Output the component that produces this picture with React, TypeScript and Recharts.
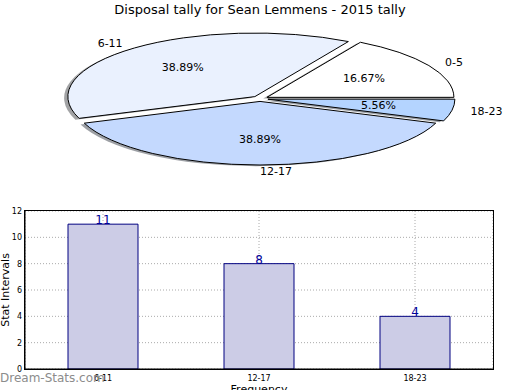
import React from 'react'
import { PieChart, Pie, BarChart, Bar, XAxis, YAxis, CartesianGrid, LabelList, Label } from 'recharts'

// pie: disposal ranges
const pieLabels = ['0-5', '6-11', '12-17', '18-23']
const pieValues = [3, 7, 7, 1]
const pieColors = ['#ffffff', '#eaf1fe', '#c4d9fe', '#b4d4ff']

// bar chart
const barCategories = ['6-11', '12-17', '18-23']
const barValues = [11, 8, 4]
const yTicks = [0, 2, 4, 6, 8, 10, 12]

const CX = 260
const CY = 98.7
const R = 187
const K = 0.34 // vertical squash of the pie
const EXPLODE = 8
const SHADOW = 0.02 * R

const total = pieValues.reduce((a, b) => a + b, 0)
let acc = 0
const slices = pieValues.map((v, i) => {
  const start = (acc / total) * 360
  acc += v
  const end = (acc / total) * 360
  const mid = ((start + end) / 2) * Math.PI / 180
  return {
    name: pieLabels[i],
    value: v,
    color: pieColors[i],
    start,
    end,
    cx: CX + EXPLODE * Math.cos(mid),
    cy: CY - EXPLODE * Math.sin(mid),
  }
})

const barData = barCategories.map((c, i) => ({ cat: c, value: barValues[i] }))

const darken = (hex: string) => {
  const n = parseInt(hex.slice(1), 16)
  const r = Math.round(((n >> 16) & 255) * 0.3)
  const g = Math.round(((n >> 8) & 255) * 0.3)
  const b = Math.round((n & 255) * 0.3)
  return `rgb(${r},${g},${b})`
}

const css = `
.pie-wrap .recharts-sector {
  transform: translate(0px, ${CY}px) scale(1, ${K}) translate(0px, -${CY}px);
  vector-effect: non-scaling-stroke;
}
`

const renderPieLabel = (props: any) => {
  const { cx, cy, midAngle, outerRadius, name, value } = props
  const rad = (midAngle * Math.PI) / 180
  const cos = Math.cos(rad)
  const sin = Math.sin(rad)
  const sy = CY + (cy - CY) * K
  const lx = cx + outerRadius * 1.1 * cos
  const ly = sy - outerRadius * 1.1 * K * sin
  const px = cx + outerRadius * 0.6 * cos
  const py = sy - outerRadius * 0.6 * K * sin
  const pct = ((value / total) * 100).toFixed(2) + '%'
  return (
    <g>
      <text x={lx} y={ly} textAnchor={cos >= -1e-9 ? 'start' : 'end'} dominantBaseline="central" fontSize={11} fill="#000">
        {name}
      </text>
      <text x={px} y={py} textAnchor="middle" dominantBaseline="central" fontSize={11} fill="#000">
        {pct}
      </text>
    </g>
  )
}

export default function App() {
  return (
    <div
      style={{
        position: 'absolute',
        left: 0,
        top: 0,
        width: 520,
        height: 390,
        background: '#fff',
        overflow: 'hidden',
        fontFamily: '"DejaVu Sans", sans-serif',
      }}
    >
      <style>{css}</style>
      <div style={{ position: 'absolute', left: 0, top: 2, width: 520, textAlign: 'center', fontSize: 13, color: '#000' }}>
        Disposal tally for Sean Lemmens - 2015 tally
      </div>
      <div className="pie-wrap" style={{ position: 'absolute', left: 0, top: 0 }}>
        <PieChart width={520} height={200} margin={{ top: 0, right: 0, bottom: 0, left: 0 }}>
          {slices.map((s, i) => [
            <Pie
              key={`sh${i}`}
              data={[{ name: s.name, value: s.value }]}
              dataKey="value"
              nameKey="name"
              cx={s.cx - SHADOW}
              cy={s.cy + SHADOW}
              startAngle={s.start}
              endAngle={s.end}
              innerRadius={0}
              outerRadius={R}
              fill={darken(s.color)}
              fillOpacity={0.5}
              stroke="none"
              label={false}
              labelLine={false}
              isAnimationActive={false}
            />,
            <Pie
              key={`p${i}`}
              data={[{ name: s.name, value: s.value }]}
              dataKey="value"
              nameKey="name"
              cx={s.cx}
              cy={s.cy}
              startAngle={s.start}
              endAngle={s.end}
              innerRadius={0}
              outerRadius={R}
              fill={s.color}
              stroke="#000"
              strokeWidth={1}
              label={renderPieLabel}
              labelLine={false}
              isAnimationActive={false}
            />,
          ])}
        </PieChart>
      </div>
      <div style={{ position: 'absolute', left: 0, top: 0 }}>
        <BarChart width={520} height={390} data={barData} margin={{ top: 211, right: 27, bottom: 0, left: 0 }}>
          <CartesianGrid stroke="#aaaaaa" strokeDasharray="1 2" />
          <XAxis
            dataKey="cat"
            height={21}
            tickSize={0}
            tickMargin={6}
            tickLine={false}
            axisLine={{ stroke: '#000' }}
            tick={{ fontSize: 8, fill: '#000' }}
          >
            <Label
              content={(p: any) => (
                <text x={p.viewBox.x + p.viewBox.width / 2} y={393} textAnchor="middle" fontSize={11} fill="#000">
                  Frequency
                </text>
              )}
            />
          </XAxis>
          <YAxis
            width={25}
            domain={[0, 12]}
            ticks={yTicks}
            tickSize={0}
            tickMargin={3}
            tickLine={false}
            axisLine={{ stroke: '#000' }}
            tick={{ fontSize: 8, fill: '#000' }}
          >
            <Label
              content={(p: any) => {
                const x = 5
                const y = p.viewBox.y + p.viewBox.height / 2
                return (
                  <text x={x} y={y} transform={`rotate(-90, ${x}, ${y})`} textAnchor="middle" dominantBaseline="central" fontSize={11} fill="#000">
                    Stat Intervals
                  </text>
                )
              }}
            />
          </YAxis>
          <Bar dataKey="value" barSize={70} fill="#cccce6" stroke="#000080" strokeWidth={1} isAnimationActive={false}>
            <LabelList dataKey="value" position="top" offset={0} fill="#000099" fontSize={12} />
          </Bar>
        </BarChart>
      </div>
      {/* axes frame */}
      <div
        style={{
          position: 'absolute',
          left: 24,
          top: 210,
          width: 470,
          height: 160,
          border: '1px solid #000',
          boxSizing: 'border-box',
          pointerEvents: 'none',
        }}
      />
      <div style={{ position: 'absolute', left: 0, top: 371, fontSize: 12, color: '#8c8c8c', lineHeight: 'normal' }}>
        Dream-Stats.com
      </div>
    </div>
  )
}
